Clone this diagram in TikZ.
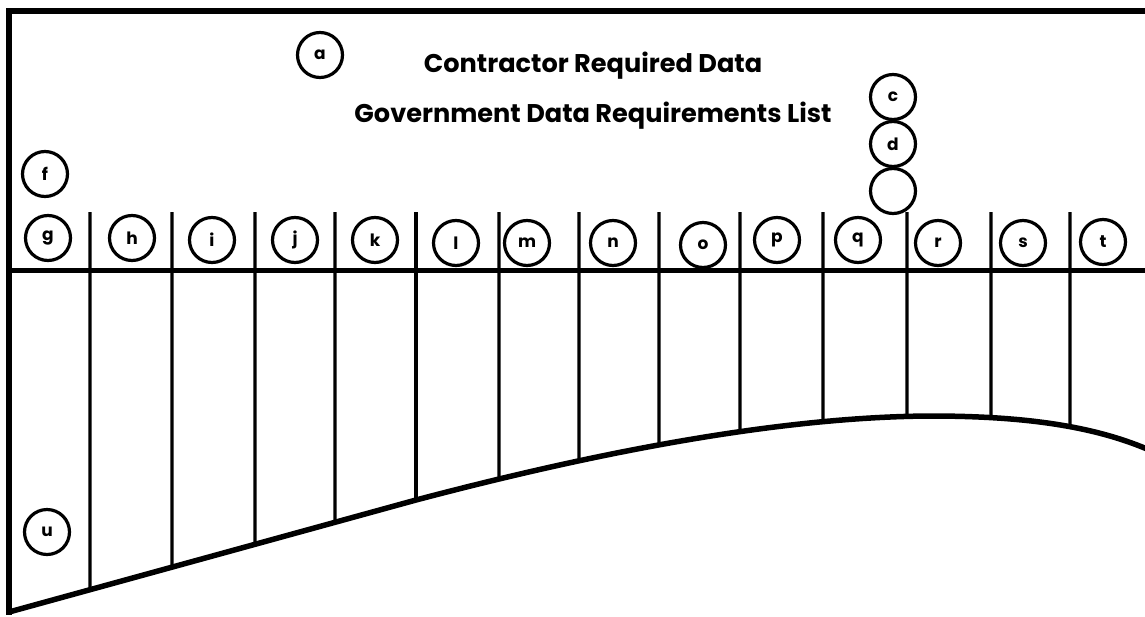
\documentclass[tikz,border=0pt]{standalone}
\usepackage{fontspec}
\setmainfont{Poppins}
\usetikzlibrary{intersections}
\tikzset{
  frame/.style={line width=5.5pt, line cap=rect, line join=miter},
  divider/.style={line width=3.3pt},
  lettercirc/.style={circle, draw, line width=3.2pt, minimum size=45pt, inner sep=0pt, font=\fontsize{17}{17}\selectfont\bfseries},
  titletext/.style={font=\fontsize{25.6}{28}\selectfont\bfseries, inner sep=0pt}
}
\begin{document}
\begin{tikzpicture}[x=1pt,y=-1pt]
\useasboundingbox (0,0) rectangle (1145,616);
% frame
\draw[frame] (1147,11) -- (9,11) -- (9,612);
\draw[frame, line width=5pt] (9,270) -- (1147,270);
% bottom curve
\draw[name path=curve, line width=5.5pt] (9,612) -- (416,500) .. controls (560,462) and (760,417) .. (930,416) .. controls (1020,416) and (1090,425) .. (1147,449);
% dividers
\foreach \x in {90,172,255,335,416,499,579,659,740,823,907,991,1070}{
  \path[name path=v] (\x,200) -- (\x,625);
  \draw[divider, name intersections={of=curve and v}] (\x,212) -- (intersection-1);
}
% titles
\node[titletext] (t1) at (593,66) {Contractor Required Data};
\node[titletext] (t2) at (593,116) {Government Data Requirements List};
% circles
\node[lettercirc] (a) at (320,55) {a};
\node[lettercirc] (c) at (893,97) {c};
\node[lettercirc] (d) at (893,144) {d};
\node[lettercirc] (e) at (893,191) {};
\node[lettercirc] (f) at (45,174) {f};
\node[lettercirc] (g) at (48,238) {g};
\node[lettercirc] (h) at (132,238) {h};
\node[lettercirc] (i) at (212,240) {i};
\node[lettercirc] (j) at (295,240) {j};
\node[lettercirc] (k) at (375,240) {k};
\node[lettercirc] (l) at (456,243) {l};
\node[lettercirc] (m) at (527,243) {m};
\node[lettercirc] (n) at (613,243) {n};
\node[lettercirc] (o) at (703,245) {o};
\node[lettercirc] (p) at (777,240) {p};
\node[lettercirc] (q) at (858,240) {q};
\node[lettercirc] (r) at (938,243) {r};
\node[lettercirc] (s) at (1023,243) {s};
\node[lettercirc] (t) at (1103,242) {t};
\node[lettercirc] (u) at (47,532) {u};
\end{tikzpicture}
\end{document}
